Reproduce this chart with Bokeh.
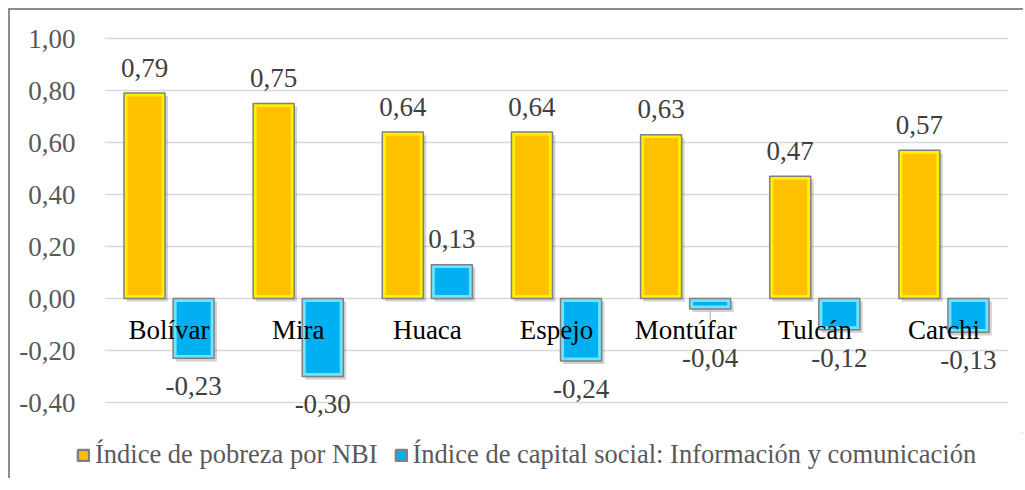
from bokeh.plotting import figure
from bokeh.layouts import column
from bokeh.models import (ColumnDataSource, FactorRange, Range1d, FixedTicker,
                          CustomJSTickFormatter, Legend, LegendItem)
from bokeh.transform import dodge
from bokeh.core.properties import value
from bokeh.embed import file_html
from bokeh.resources import INLINE

# ---------------- data ----------------
categories = ["Bolívar", "Mira", "Huaca", "Espejo", "Montúfar", "Tulcán", "Carchi"]
nbi = [0.79, 0.75, 0.64, 0.64, 0.63, 0.47, 0.57]
capital = [-0.23, -0.30, 0.13, -0.24, -0.04, -0.12, -0.13]
y_ticks = [-0.4, -0.2, 0.0, 0.2, 0.4, 0.6, 0.8, 1.0]
series_names = ["Índice de pobreza por NBI",
                "Índice de capital social: Información y comunicación"]

FONT = "Liberation Serif"
FS = "27px"
YELLOW, YELLOW_LIGHT = "#FFC000", "#FFF000"
BLUE, BLUE_LIGHT = "#00B0F0", "#6FE3FF"
BAR_W = 0.318
OFF = 0.19
W = 1013


def fmt(v):
    return f"{v:.2f}".replace(".", ",")


def label_y(v):
    return v + 0.098 if v >= 0 else min(v - 0.107, -0.227)


def inner(v, inset=0.013):
    if v >= 0:
        return max(v - inset, 0.0), 0.0 + min(inset, v / 2)
    return min(v + inset, 0.0), 0.0 - min(inset, -v / 2)


src = ColumnDataSource(dict(
    cat=categories,
    nbi=nbi,
    cap=capital,
    zero=[0.0] * len(categories),
    nbi_in_top=[inner(v)[0] for v in nbi],
    nbi_in_bot=[inner(v)[1] for v in nbi],
    cap_in_top=[inner(v)[0] for v in capital],
    cap_in_bot=[inner(v)[1] for v in capital],
    nbi_sh_top=[max(v, 0) - 0.012 for v in nbi],
    nbi_sh_bot=[min(v, 0) - 0.012 for v in nbi],
    cap_sh_top=[max(v, 0) - 0.012 for v in capital],
    cap_sh_bot=[min(v, 0) - 0.012 for v in capital],
    nbi_lbl=[fmt(v) for v in nbi],
    cap_lbl=[fmt(v) for v in capital],
    nbi_ly=[label_y(v) for v in nbi],
    cap_ly=[label_y(v) for v in capital],
    cat_ly=[-0.12] * len(categories),
))

# leader lines for labels pushed far from their bar (Excel style)
lead = dict(cat=[], y0=[], y1=[])
for c, v in zip(categories, capital):
    if v < 0 and (v - label_y(v)) > 0.15:
        lead["cat"].append(c)
        lead["y0"].append(v - 0.008)
        lead["y1"].append(v - 0.045)
lead_src = ColumnDataSource(lead)

p = figure(
    x_range=FactorRange(*categories, range_padding=0),
    y_range=Range1d(-0.4 - 30 / 260, 1.0 + 8 / 260),
    width=W, height=422,
    output_backend="svg", toolbar_location=None,
    min_border_left=94, min_border_right=15,
    min_border_top=20, min_border_bottom=0,
)
p.frame_align = False
p.outline_line_color = None
p.background_fill_color = "white"
p.border_fill_color = "white"

# grid / axes
p.xgrid.visible = False
p.ygrid.ticker = FixedTicker(ticks=y_ticks)
p.ygrid.grid_line_color = "#D9D9D9"
p.ygrid.grid_line_width = 1.5
p.xaxis.visible = False
p.yaxis.ticker = FixedTicker(ticks=y_ticks)
p.yaxis.formatter = CustomJSTickFormatter(code="return tick.toFixed(2).replace('.', ',');")
p.yaxis.axis_line_color = None
p.yaxis.major_tick_line_color = None
p.yaxis.minor_tick_line_color = None
p.yaxis.major_label_text_font = FONT
p.yaxis.major_label_text_font_size = FS
p.yaxis.major_label_text_color = "#595959"
p.yaxis.major_label_standoff = 23

# shadows
for key, off in (("nbi", -OFF), ("cap", OFF)):
    p.vbar(x=dodge("cat", off + 0.022, range=p.x_range), top=f"{key}_sh_top",
           bottom=f"{key}_sh_bot", width=BAR_W, source=src,
           fill_color="#000000", fill_alpha=0.18, line_color=None)

bar_styles = [dict(fill_color=YELLOW_LIGHT, line_color="#808080", line_width=1.5),
              dict(fill_color=BLUE_LIGHT, line_color="#808080", line_width=1.5)]

# bars (outer light bevel + inner main colour)
p.vbar(x=dodge("cat", -OFF, range=p.x_range), top="nbi", bottom="zero",
       width=BAR_W, source=src, **bar_styles[0])
p.vbar(x=dodge("cat", -OFF, range=p.x_range), top="nbi_in_top", bottom="nbi_in_bot",
       width=BAR_W - 0.055, source=src, fill_color=YELLOW, line_color=None)
p.vbar(x=dodge("cat", OFF, range=p.x_range), top="cap", bottom="zero",
       width=BAR_W, source=src, **bar_styles[1])
p.vbar(x=dodge("cat", OFF, range=p.x_range), top="cap_in_top", bottom="cap_in_bot",
       width=BAR_W - 0.055, source=src, fill_color=BLUE, line_color=None)

# leader line(s)
p.segment(x0=dodge("cat", OFF, range=p.x_range), x1=dodge("cat", OFF, range=p.x_range),
          y0="y0", y1="y1", source=lead_src, line_color="#A6A6A6", line_width=1)

# category labels (drawn at the axis, over the bars)
p.text(x="cat", y="cat_ly", text="cat", source=src,
       text_font=value(FONT), text_font_size=FS, text_color="#000000",
       text_align="center", text_baseline="middle")

# data labels
p.text(x=dodge("cat", -OFF, range=p.x_range), y="nbi_ly", text="nbi_lbl", source=src,
       text_font=value(FONT), text_font_size=FS, text_color="#404040",
       text_align="center", text_baseline="alphabetic")
p.text(x=dodge("cat", OFF, range=p.x_range), y="cap_ly", text="cap_lbl", source=src,
       text_font=value(FONT), text_font_size=FS, text_color="#404040",
       text_align="center", text_baseline="alphabetic")

# ---------------- legend strip ----------------
lg = figure(x_range=Range1d(0, 1), y_range=Range1d(0, 1), width=W, height=46,
            output_backend="svg", toolbar_location=None,
            min_border_left=0, min_border_right=0, min_border_top=0, min_border_bottom=0)
lg.frame_align = False
lg.axis.visible = False
lg.grid.visible = False
lg.outline_line_color = None
lg.border_fill_color = "white"
# legend swatches only: glyphs placed outside the visible range
r1 = lg.vbar(x=[5], top=[6], bottom=[5], width=0.1,
             fill_color=YELLOW, line_color="#808080", line_width=2.5)
r2 = lg.vbar(x=[5], top=[6], bottom=[5], width=0.1,
             fill_color=BLUE, line_color="#808080", line_width=2.5)
legend = Legend(
    items=[LegendItem(label=series_names[0], renderers=[r1]),
           LegendItem(label=series_names[1], renderers=[r2])],
    location=(66, 8), orientation="horizontal",
    label_text_font=FONT, label_text_font_size="26.5px", label_text_color="#595959",
    glyph_width=14, glyph_height=14, label_standoff=5, spacing=16,
    padding=0, margin=0, border_line_color=None, background_fill_alpha=0,
)
lg.add_layout(legend, "center")

layout = column(p, lg, spacing=0)
layout.styles = {"margin-left": "8px", "margin-top": "8px",
                 "border-left": "2px solid #8C8C8C", "border-top": "2px solid #8C8C8C"}

open("out.html", "w").write(file_html(layout, INLINE))
